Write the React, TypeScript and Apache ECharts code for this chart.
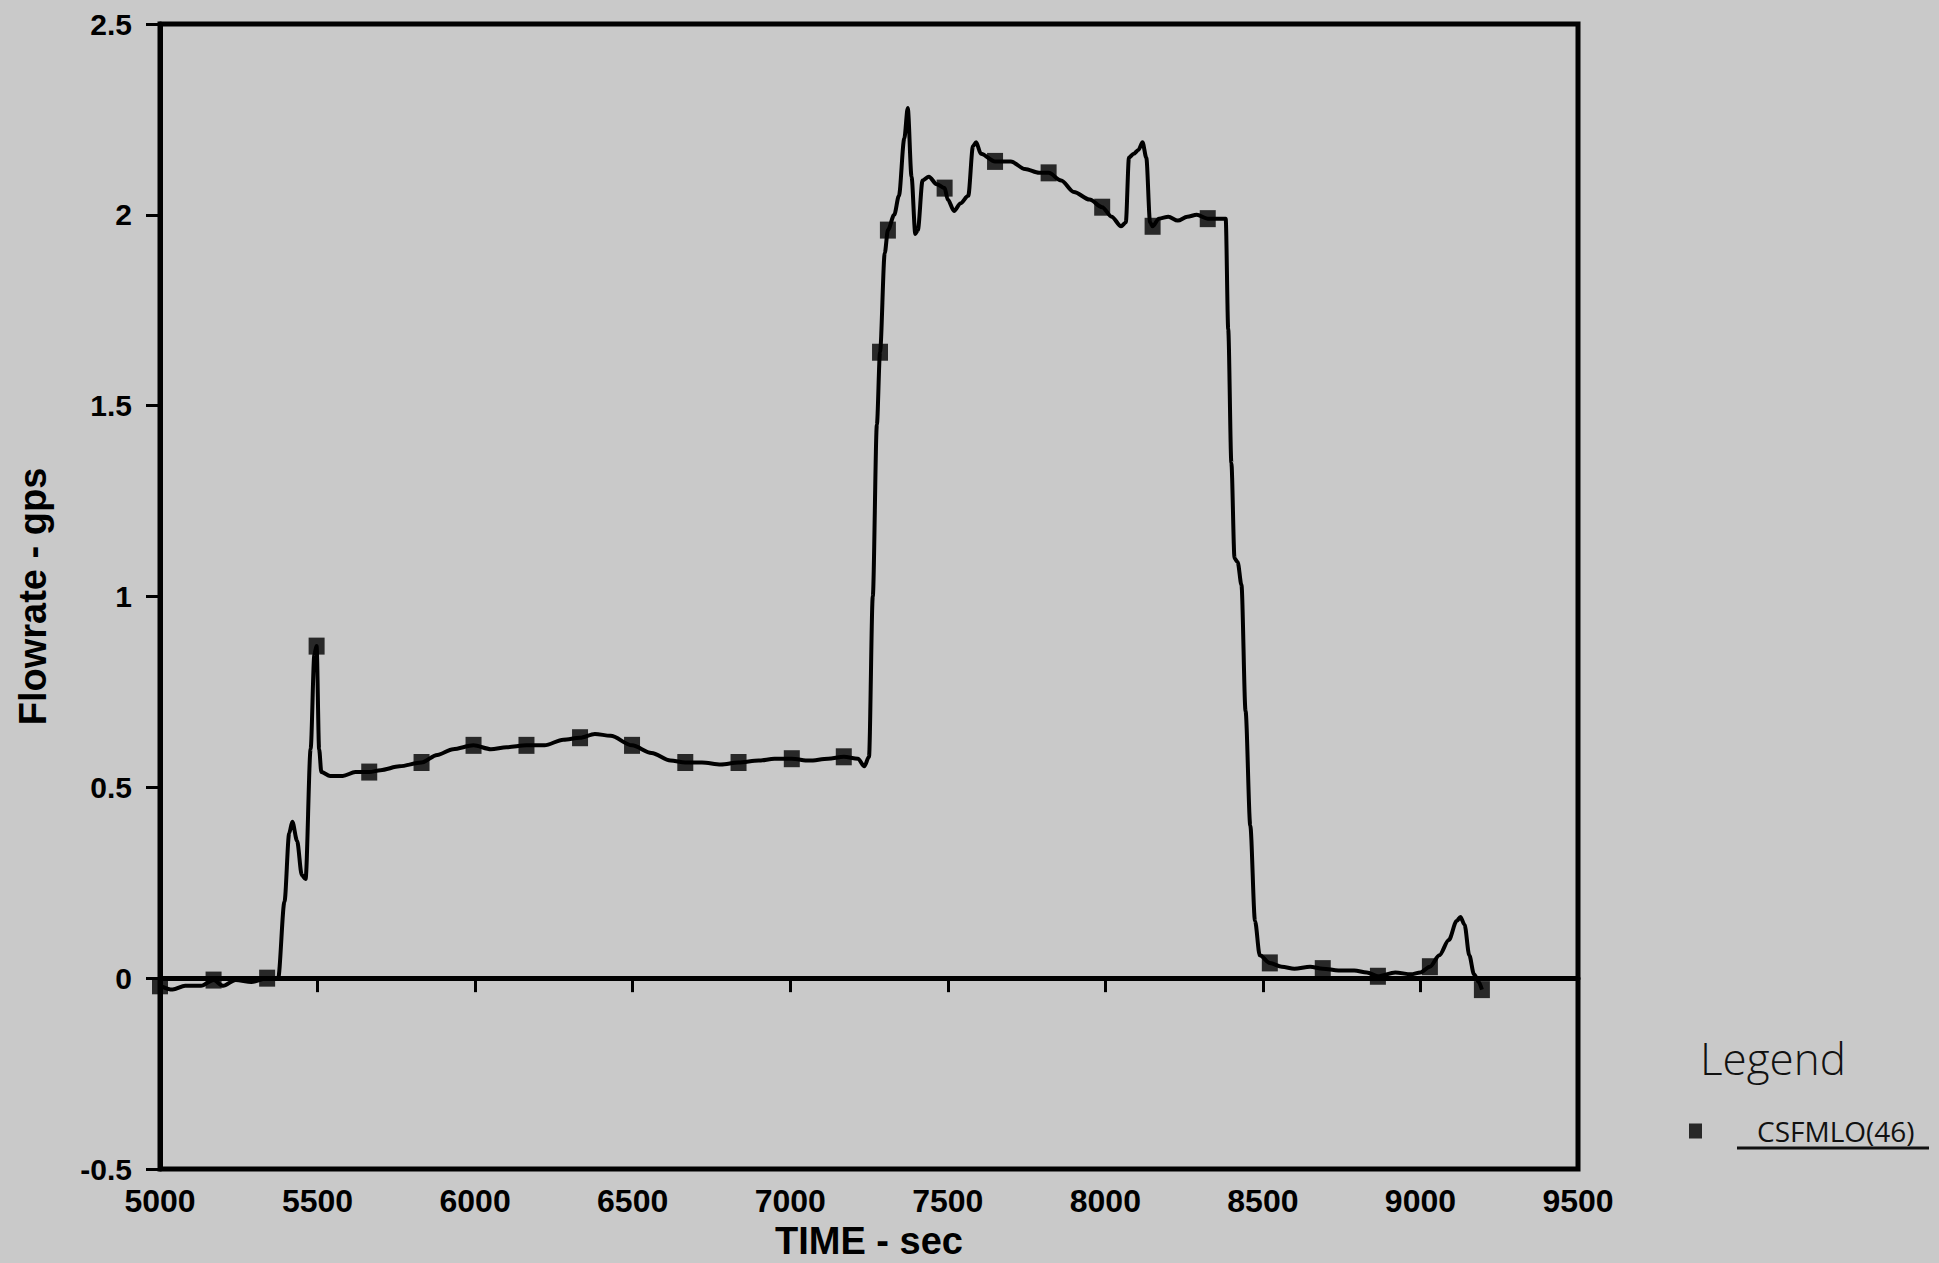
import React, { useEffect, useRef } from "react";
import * as echarts from "echarts";

// Time (sec) of the traced curve
const timeData = [
  5000, 5040, 5080, 5130, 5170, 5200, 5240, 5290, 5340, 5375, 5395, 5410, 5420, 5435, 5450, 5462,
  5478, 5490, 5497, 5505, 5512, 5540, 5580, 5620, 5664, 5700, 5760, 5830, 5880, 5930, 5995, 6050,
  6100, 6163, 6220, 6280, 6333, 6380, 6430, 6498, 6560, 6620, 6667, 6720, 6780, 6836, 6900, 6950,
  7005, 7060, 7120, 7170, 7215, 7235, 7250, 7262, 7275, 7285, 7300, 7310, 7330, 7345, 7362, 7373,
  7385, 7397, 7405, 7420, 7440, 7465, 7490, 7500, 7520, 7540, 7565, 7580, 7590, 7605, 7650, 7700,
  7745, 7790, 7820, 7860, 7900, 7950, 7990, 8020, 8050, 8065, 8075, 8090, 8105, 8118, 8130, 8142,
  8150, 8170, 8200, 8230, 8260, 8290, 8325, 8370, 8382, 8390, 8400, 8410, 8420, 8432, 8445, 8460,
  8475, 8490, 8522, 8560, 8600, 8650, 8690, 8740, 8790, 8830, 8865, 8920, 8970, 9000, 9030, 9060,
  9090, 9115, 9127, 9140, 9155, 9170, 9185, 9195,
];
// Flowrate (gps) of the traced curve
const flowData = [
  -0.02, -0.03, -0.02, -0.02, -0.005, -0.02, -0.005, -0.01, 0.0, 0.0, 0.2, 0.38, 0.41, 0.36, 0.27, 0.26,
  0.6, 0.85, 0.87, 0.6, 0.54, 0.53, 0.53, 0.54, 0.54, 0.545, 0.555, 0.565, 0.585, 0.6, 0.61, 0.6,
  0.605, 0.61, 0.61, 0.625, 0.63, 0.64, 0.635, 0.61, 0.59, 0.57, 0.565, 0.565, 0.56, 0.565, 0.57, 0.575,
  0.575, 0.57, 0.575, 0.58, 0.575, 0.555, 0.58, 1.0, 1.45, 1.64, 1.9, 1.96, 2.0, 2.05, 2.2, 2.28,
  2.1, 1.95, 1.96, 2.09, 2.1, 2.08, 2.07, 2.04, 2.01, 2.03, 2.05, 2.18, 2.19, 2.16, 2.14, 2.14,
  2.12, 2.11, 2.11, 2.09, 2.06, 2.04, 2.02, 1.995, 1.97, 1.98, 2.15, 2.16, 2.17, 2.19, 2.15, 1.98,
  1.97, 1.99, 1.995, 1.985, 1.995, 2.0, 1.99, 1.99, 1.99, 1.7, 1.35, 1.1, 1.09, 1.03, 0.7, 0.4,
  0.15, 0.06, 0.04, 0.03, 0.025, 0.03, 0.025, 0.02, 0.02, 0.015, 0.005, 0.015, 0.01, 0.015, 0.03, 0.06,
  0.1, 0.15, 0.16, 0.14, 0.06, 0.01, -0.01, -0.03,
];
// Square symbols of CSFMLO(46)
const markerTimes = [
  5000, 5170, 5340, 5497, 5664, 5830, 5995, 6163, 6333, 6498, 6667, 6836, 7005, 7170, 7285, 7310,
  7490, 7650, 7820, 7990, 8150, 8325, 8522, 8690, 8865, 9030, 9195,
];
const markerValues = [
  -0.02, -0.005, 0.0, 0.87, 0.54, 0.565, 0.61, 0.61, 0.63, 0.61, 0.565, 0.565, 0.575, 0.58, 1.64, 1.96,
  2.07, 2.14, 2.11, 2.02, 1.97, 1.99, 0.04, 0.025, 0.005, 0.03, -0.03,
];
const seriesName = "CSFMLO(46)";
const xTitle = "TIME - sec";
const yTitle = "Flowrate - gps";
const legendTitle = "Legend";

const BOLD = '"Liberation Sans", Arial, sans-serif';
const LIGHT = '"Open Sans", "Noto Sans", sans-serif';

export default function App() {
  const ref = useRef<HTMLDivElement>(null);
  useEffect(() => {
    if (!ref.current) return;
    const chart = echarts.init(ref.current, undefined, { renderer: "svg" });
    const lineData = timeData.map((t, i) => [t, flowData[i]]);
    const markData = markerTimes.map((t, i) => [t, markerValues[i]]);
    chart.setOption({
      animation: false,
      backgroundColor: "#c9c9c9",
      grid: {
        left: 160,
        top: 24,
        width: 1418,
        height: 1145,
        outerBoundsMode: "none",
        containLabel: false,
        show: true,
        borderColor: "#000",
        borderWidth: 5,
        backgroundColor: "transparent",
      },
      legend: {
        data: [seriesName],
        left: 1684,
        top: 1112,
        icon: "rect",
        itemWidth: 13,
        itemHeight: 15,
        textStyle: {
          fontFamily: LIGHT,
          fontSize: 28,
          color: "#111",
          padding: [0, 0, 0, 50],
        },
      },
      xAxis: {
        type: "value",
        min: 5000,
        max: 9500,
        interval: 500,
        name: xTitle,
        nameLocation: "middle",
        nameGap: 50,
        nameTextStyle: { fontFamily: BOLD, fontWeight: "bold", fontSize: 38, color: "#000" },
        axisLine: { show: true, lineStyle: { color: "#000", width: 5 } },
        axisTick: { show: true, inside: false, length: 14, lineStyle: { color: "#000", width: 3 } },
        axisLabel: {
          fontFamily: BOLD,
          fontWeight: "bold",
          fontSize: 32,
          color: "#000",
          margin: 16,
          formatter: (v: number) => String(v),
        },
        splitLine: { show: false },
      },
      yAxis: {
        type: "value",
        min: -0.5,
        max: 2.5,
        interval: 0.5,
        name: yTitle,
        nameLocation: "middle",
        nameGap: 108,
        nameTextStyle: { fontFamily: BOLD, fontWeight: "bold", fontSize: 38, color: "#000" },
        axisLine: { show: true, lineStyle: { color: "#000", width: 5 } },
        axisTick: { show: true, inside: false, length: 14, lineStyle: { color: "#000", width: 3 } },
        axisLabel: { fontFamily: BOLD, fontWeight: "bold", fontSize: 30, color: "#000", margin: 28 },
        splitLine: { show: false },
      },
      series: [
        {
          type: "line",
          name: "trace",
          data: lineData,
          showSymbol: false,
          smooth: 0.3,
          smoothMonotone: "x",
          lineStyle: { color: "#000", width: 4 },
          itemStyle: { color: "#000" },
          markLine: {
            silent: true,
            symbol: "none",
            label: { show: false },
            lineStyle: { color: "#000", width: 1.2, type: "solid" },
            data: [{ yAxis: 0 }],
          },
          z: 3,
        },
        {
          type: "scatter",
          name: seriesName,
          data: markData,
          symbol: "rect",
          symbolSize: [16, 17],
          itemStyle: { color: "#000" },
          z: 4,
        },
      ],
      graphic: [
        {
          type: "text",
          left: 1700,
          top: 1036,
          style: { text: legendTitle, fontFamily: LIGHT, fontSize: 44, fontWeight: 300, fill: "#111" },
        },
        {
          type: "line",
          shape: { x1: 1737, y1: 1148, x2: 1929, y2: 1148 },
          style: { stroke: "#111", lineWidth: 3 },
        },
      ],
    });
    return () => chart.dispose();
  }, []);
  return (
    <div
      ref={ref}
      style={{ position: "fixed", left: 0, top: 0, width: "1939px", height: "1263px", background: "#c9c9c9" }}
    />
  );
}
